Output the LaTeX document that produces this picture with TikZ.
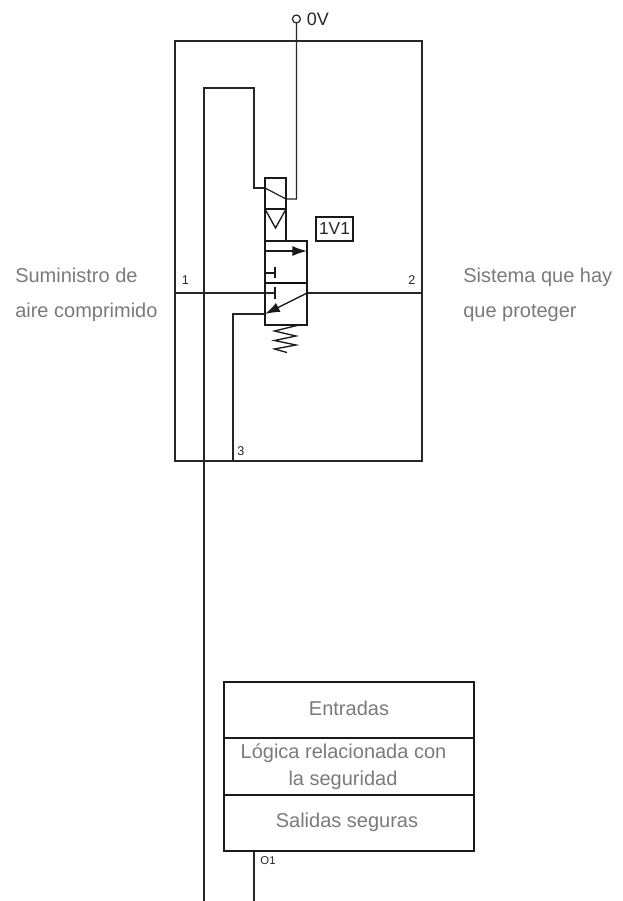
\documentclass[tikz,border=0pt]{standalone}
\usepackage{fontspec}
\setmainfont{Liberation Sans}
\usetikzlibrary{arrows.meta}
\definecolor{txtgrey}{HTML}{7A7A7A}
\tikzset{
 wire/.style={line width=0.95pt,draw=black!85,line join=miter},
 sym/.style={line width=1pt,draw=black!90,line join=miter},
 heavy/.style={line width=1.3pt,draw=black!95},
 tip/.style={-{Latex[length=11pt,width=7.5pt]}},
 grey/.style={text=txtgrey,font=\fontsize{15}{18}\selectfont,inner sep=0pt},
 blocktxt/.style={grey,align=center},
 pin/.style={font=\fontsize{9.5}{10}\selectfont,inner sep=0pt,text=black!85},
 blockbox/.style={draw=black!90,line width=1.2pt,minimum width=187.5pt,inner sep=0pt,anchor=north west}
}
\begin{document}
\begin{tikzpicture}[x=0.75pt,y=-0.75pt]
\useasboundingbox (0,0) rectangle (623,901);
% named points
\coordinate (tl) at (175,41); \coordinate (tr) at (422,41);
\coordinate (bl) at (175,461); \coordinate (brc) at (422,461);
\coordinate (busTop) at (204,88); \coordinate (busEnd) at (204,901);
\coordinate (busR) at (254,88); \coordinate (solL) at (254,188);
\coordinate (coilL) at (265,188); \coordinate (coilR) at (286,199);
\coordinate (solR) at (296.4,199); \coordinate (term) at (296.4,23);
\coordinate (portA) at (175,293); \coordinate (stopA) at (275,293);
\coordinate (portB) at (422,293); \coordinate (valveR) at (307,293);
\coordinate (valveIn) at (265,314); \coordinate (exB) at (233,314);
\coordinate (exE) at (233,461);
\coordinate (o1top) at (254,850); \coordinate (o1end) at (254,901);
% outer frame
\draw[wire] (tl) -- (tr) -- (brc) -- (bl) -- cycle;
% wires
\draw[wire] (busEnd) -- (busTop) -- (busR) -- (solL) -- (coilL);
\draw[wire] (coilL) -- (coilR) -- (solR) -- (term);
\draw[wire] (portA) -- (stopA);
\draw[wire] (valveR) -- (portB);
\draw[wire] (exE) -- (exB) -- (valveIn);
\draw[wire] (o1top) -- (o1end);
% terminal
\node[circle,draw=black!85,line width=0.9pt,minimum size=6pt,inner sep=0pt,fill=white] (circ) at (296.4,19) {};
\node[anchor=west,inner sep=0pt,font=\fontsize{13.5}{14}\selectfont,text=black!85] (zero) at (306.5,19) {0V};
% solenoid
\draw[sym] (265,241) -- (265,178) -- (286,178) -- (286,241);
\draw[sym] (265,209) -- (286,209);
\draw[sym] (265,209) -- (275.5,228) -- (286,209);
% valve
\draw[sym] (265,241) rectangle (307,325);
\draw[heavy] (265,283) -- (307,283);
\draw[sym,tip] (265,251) -- (307,251);
\draw[sym] (265,273) -- (275,273);
\draw[sym] (275,267) -- (275,278);
\draw[sym] (275,287) -- (275,299);
\draw[sym,tip] (valveR) -- (valveIn);
% spring
\draw[sym] (297,325.5) -- (274.5,331) -- (296,336) -- (274.5,340.5) -- (296,345) -- (274.5,349) -- (287,352.5);
% tag
\node[draw=black!90,line width=1.3pt,inner sep=0pt,minimum width=27.5pt,minimum height=17.5pt,font=\fontsize{13}{14}\selectfont,text=black!85] (tag) at (334.5,229) {1V1};
% pins
\node[pin] (p1) at (185.5,280.5) {1};
\node[pin] (p2) at (412,280.5) {2};
\node[pin] (p3) at (241,451.5) {3};
\node[pin,font=\fontsize{8.5}{9}\selectfont] (po1) at (268,861) {O1};
% side labels
\node[grey,anchor=base west] (lA) at (15,282) {Suministro de};
\node[grey,anchor=base west] (lB) at (15,317) {aire comprimido};
\node[grey,anchor=base west] (rA) at (463,282) {Sistema que hay};
\node[grey,anchor=base west] (rB) at (463,317) {que proteger};
% logic block
\node[blockbox,minimum height=42pt] (inp) at (223,681) {};
\node[blockbox,minimum height=42.75pt] (log) at (223,737) {};
\node[blockbox,minimum height=42pt] (out) at (223,794) {};
\node[blocktxt] (t1) at (349,708) {Entradas};
\node[blocktxt] (t2a) at (343.5,753) {Lógica relacionada con};
\node[blocktxt] (t2b) at (343,780) {la seguridad};
\node[blocktxt] (t3) at (347,822) {Salidas seguras};
\end{tikzpicture}
\end{document}
